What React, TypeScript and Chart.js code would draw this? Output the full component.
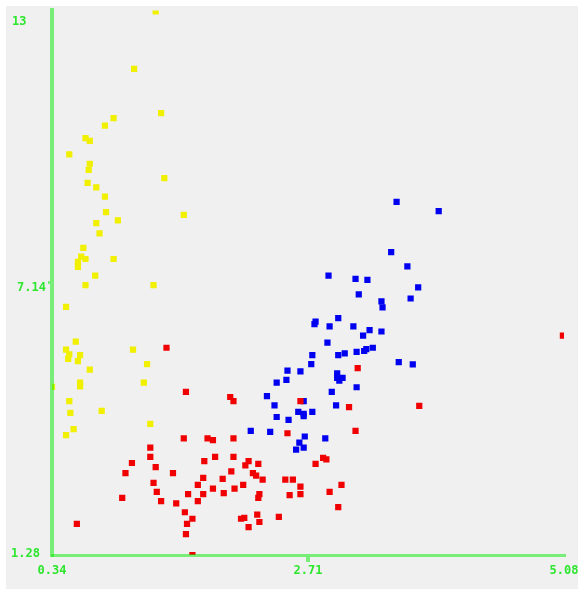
import React, { useEffect, useRef } from "react";
import { Chart, registerables } from "chart.js";

Chart.register(...registerables);

// ---- data ----
const xTickValues = [0.34, 2.71, 5.08];
const xTickLabels = ["0.34", "2.71", "5.08"];
const yTickValues = [1.28, 7.14, 13];
const yTickLabels = ["1.28", "7.14", "13"];

const yellowX = [1.30, 1.10, 1.35, 0.91, 0.83, 0.65, 0.69, 0.50, 0.69, 0.68, 1.38, 0.67, 0.75, 0.83, 1.56, 0.84, 0.95, 0.75, 0.78, 0.63, 0.61, 0.65, 0.91, 0.58, 0.58, 0.74, 0.65, 1.28, 0.47, 0.56, 0.47, 1.09, 0.50, 0.60, 0.49, 0.58, 1.22, 0.69, 0.60, 0.60, 0.34, 1.19, 0.50, 0.51, 0.80, 1.25, 0.54, 0.47];
const yellowY = [12.98, 11.74, 10.79, 10.68, 10.52, 10.25, 10.19, 9.90, 9.70, 9.57, 9.39, 9.29, 9.19, 8.99, 8.60, 8.66, 8.48, 8.42, 8.20, 7.89, 7.70, 7.65, 7.65, 7.59, 7.48, 7.29, 7.09, 7.09, 6.62, 5.87, 5.70, 5.70, 5.60, 5.58, 5.50, 5.45, 5.39, 5.27, 4.99, 4.91, 4.90, 4.99, 4.59, 4.34, 4.38, 4.10, 3.99, 3.86];

const redX = [1.58, 1.99, 2.02, 2.64, 3.09, 3.15, 2.52, 1.56, 1.78, 1.83, 2.02, 1.25, 1.25, 1.08, 1.30, 1.02, 1.46, 1.75, 1.85, 2.02, 2.16, 2.13, 2.25, 2.00, 2.20, 2.23, 2.29, 1.74, 1.92, 1.69, 1.83, 2.03, 2.11, 2.50, 2.57, 2.64, 2.64, 2.54, 2.78, 2.85, 2.88, 3.02, 2.91, 2.99, 1.28, 1.31, 1.35, 0.99, 1.60, 1.74, 1.69, 1.93, 2.26, 2.25, 1.49, 1.57, 1.64, 1.59, 1.58, 2.09, 2.12, 2.16, 2.24, 2.26, 2.44, 1.40, 0.57, 1.64, 5.07, 3.17, 3.74];
const redY = [4.79, 4.68, 4.59, 4.59, 4.46, 3.95, 3.90, 3.79, 3.79, 3.75, 3.79, 3.59, 3.39, 3.26, 3.17, 3.04, 3.04, 3.30, 3.39, 3.39, 3.30, 3.21, 3.24, 3.08, 3.04, 2.99, 2.90, 2.94, 2.92, 2.79, 2.71, 2.71, 2.79, 2.90, 2.90, 2.75, 2.59, 2.57, 3.24, 3.37, 3.34, 2.79, 2.64, 2.31, 2.83, 2.64, 2.44, 2.51, 2.59, 2.59, 2.44, 2.61, 2.59, 2.51, 2.39, 2.20, 2.06, 1.95, 1.73, 2.06, 2.08, 1.88, 2.15, 1.99, 2.10, 5.74, 1.95, 1.28, 6.00, 5.30, 4.49];

const blueX = [3.53, 3.92, 3.48, 3.63, 2.90, 3.15, 3.26, 3.73, 3.18, 3.66, 3.39, 3.40, 2.99, 2.78, 2.77, 2.91, 3.13, 3.28, 3.22, 3.39, 2.89, 2.75, 2.99, 3.05, 3.16, 3.23, 3.25, 3.31, 3.55, 3.68, 2.74, 2.52, 2.64, 2.51, 2.98, 2.98, 3.03, 3.00, 2.93, 3.16, 2.97, 2.67, 2.62, 2.67, 2.67, 2.75, 2.53, 2.87, 2.68, 2.63, 2.67, 2.60, 2.42, 2.33, 2.40, 2.42, 2.18, 2.36];
const blueY = [8.88, 8.68, 7.80, 7.49, 7.29, 7.22, 7.20, 7.04, 6.89, 6.80, 6.74, 6.61, 6.38, 6.30, 6.25, 6.20, 6.20, 6.12, 6.00, 6.09, 5.85, 5.58, 5.58, 5.62, 5.65, 5.67, 5.71, 5.74, 5.43, 5.38, 5.39, 5.25, 5.23, 5.05, 5.19, 5.09, 5.09, 5.03, 4.79, 4.89, 4.50, 4.59, 4.36, 4.32, 4.27, 4.36, 4.19, 3.79, 3.83, 3.70, 3.59, 3.55, 4.99, 4.70, 4.50, 4.25, 3.95, 3.93];

// ---- styles ----
const AXIS_COLOR = "rgba(0,236,0,0.5)";
const LABEL_COLOR = "#2ee62e";
const LABEL_FONT = 'bold 12px "DejaVu Sans Mono", "Liberation Mono", monospace';

const toPoints = (xs: number[], ys: number[]) => xs.map((x, i) => ({ x, y: ys[i] }));

const tickLabelPlugin = {
  id: "tickLabelPlugin",
  afterDraw(chart: any) {
    const ctx = chart.ctx;
    const xs = chart.scales.x;
    const ys = chart.scales.y;
    ctx.save();
    ctx.fillStyle = LABEL_COLOR;
    ctx.font = LABEL_FONT;
    ctx.textBaseline = "alphabetic";
    // x labels centred under ticks
    ctx.textAlign = "center";
    xTickValues.forEach((v, i) => {
      ctx.fillText(xTickLabels[i], xs.getPixelForValue(v), chart.chartArea.bottom + 19);
    });
    // y labels
    ctx.textAlign = "left";
    const yLeft = [5, 11, 6];
    const yDrop = [2, 8.5, 15];
    yTickValues.forEach((v, i) => {
      ctx.fillText(yTickLabels[i], yLeft[i], ys.getPixelForValue(v) + yDrop[i]);
    });
    ctx.restore();
  },
};

export default function App() {
  const ref = useRef<HTMLCanvasElement | null>(null);

  useEffect(() => {
    if (!ref.current) return;
    const pointOpts = { pointStyle: "rect", pointRadius: 4.4, borderWidth: 0, showLine: false };
    const chart = new Chart(ref.current, {
      type: "scatter",
      data: {
        datasets: [
          { data: toPoints(yellowX, yellowY), backgroundColor: "#f0f000", ...pointOpts },
          { data: toPoints(redX, redY), backgroundColor: "#f00000", ...pointOpts },
          { data: toPoints(blueX, blueY), backgroundColor: "#0000f0", ...pointOpts },
        ],
      } as any,
      options: {
        animation: false,
        responsive: false,
        events: [],
        layout: { padding: { top: 4, right: 14, left: 0, bottom: 0 } },
        plugins: { legend: { display: false }, tooltip: { enabled: false } },
        scales: {
          x: {
            type: "linear",
            min: xTickValues[0],
            max: xTickValues[xTickValues.length - 1],
            afterBuildTicks: (s: any) => {
              s.ticks = xTickValues.map((v) => ({ value: v }));
            },
            afterFit: (s: any) => {
              s.height = 34;
            },
            ticks: { display: false },
            grid: {
              display: true,
              drawOnChartArea: false,
              drawTicks: true,
              tickLength: 7,
              lineWidth: 4,
              z: 1,
              color: (c: any) => (c.index === 1 ? AXIS_COLOR : "rgba(0,0,0,0)"),
            },
            border: { display: true, color: AXIS_COLOR, width: 3, z: 1 },
          },
          y: {
            type: "linear",
            min: yTickValues[0],
            max: yTickValues[yTickValues.length - 1],
            afterBuildTicks: (s: any) => {
              s.ticks = yTickValues.map((v) => ({ value: v }));
            },
            afterFit: (s: any) => {
              s.width = 46;
            },
            ticks: { display: false },
            grid: {
              display: true,
              drawOnChartArea: false,
              drawTicks: true,
              tickLength: 4,
              lineWidth: 3,
              z: 1,
              color: (c: any) => (c.index === 1 ? AXIS_COLOR : "rgba(0,0,0,0)"),
            },
            border: { display: true, color: AXIS_COLOR, width: 4, z: 1 },
          },
        },
      } as any,
      plugins: [tickLabelPlugin],
    });
    return () => chart.destroy();
  }, []);

  return (
    <div
      style={{
        position: "absolute",
        left: 6,
        top: 6,
        width: 572,
        height: 583,
        background: "#f0f0f0",
        overflow: "hidden",
      }}
    >
      <canvas ref={ref} width={572} height={583} style={{ display: "block" }} />
    </div>
  );
}
